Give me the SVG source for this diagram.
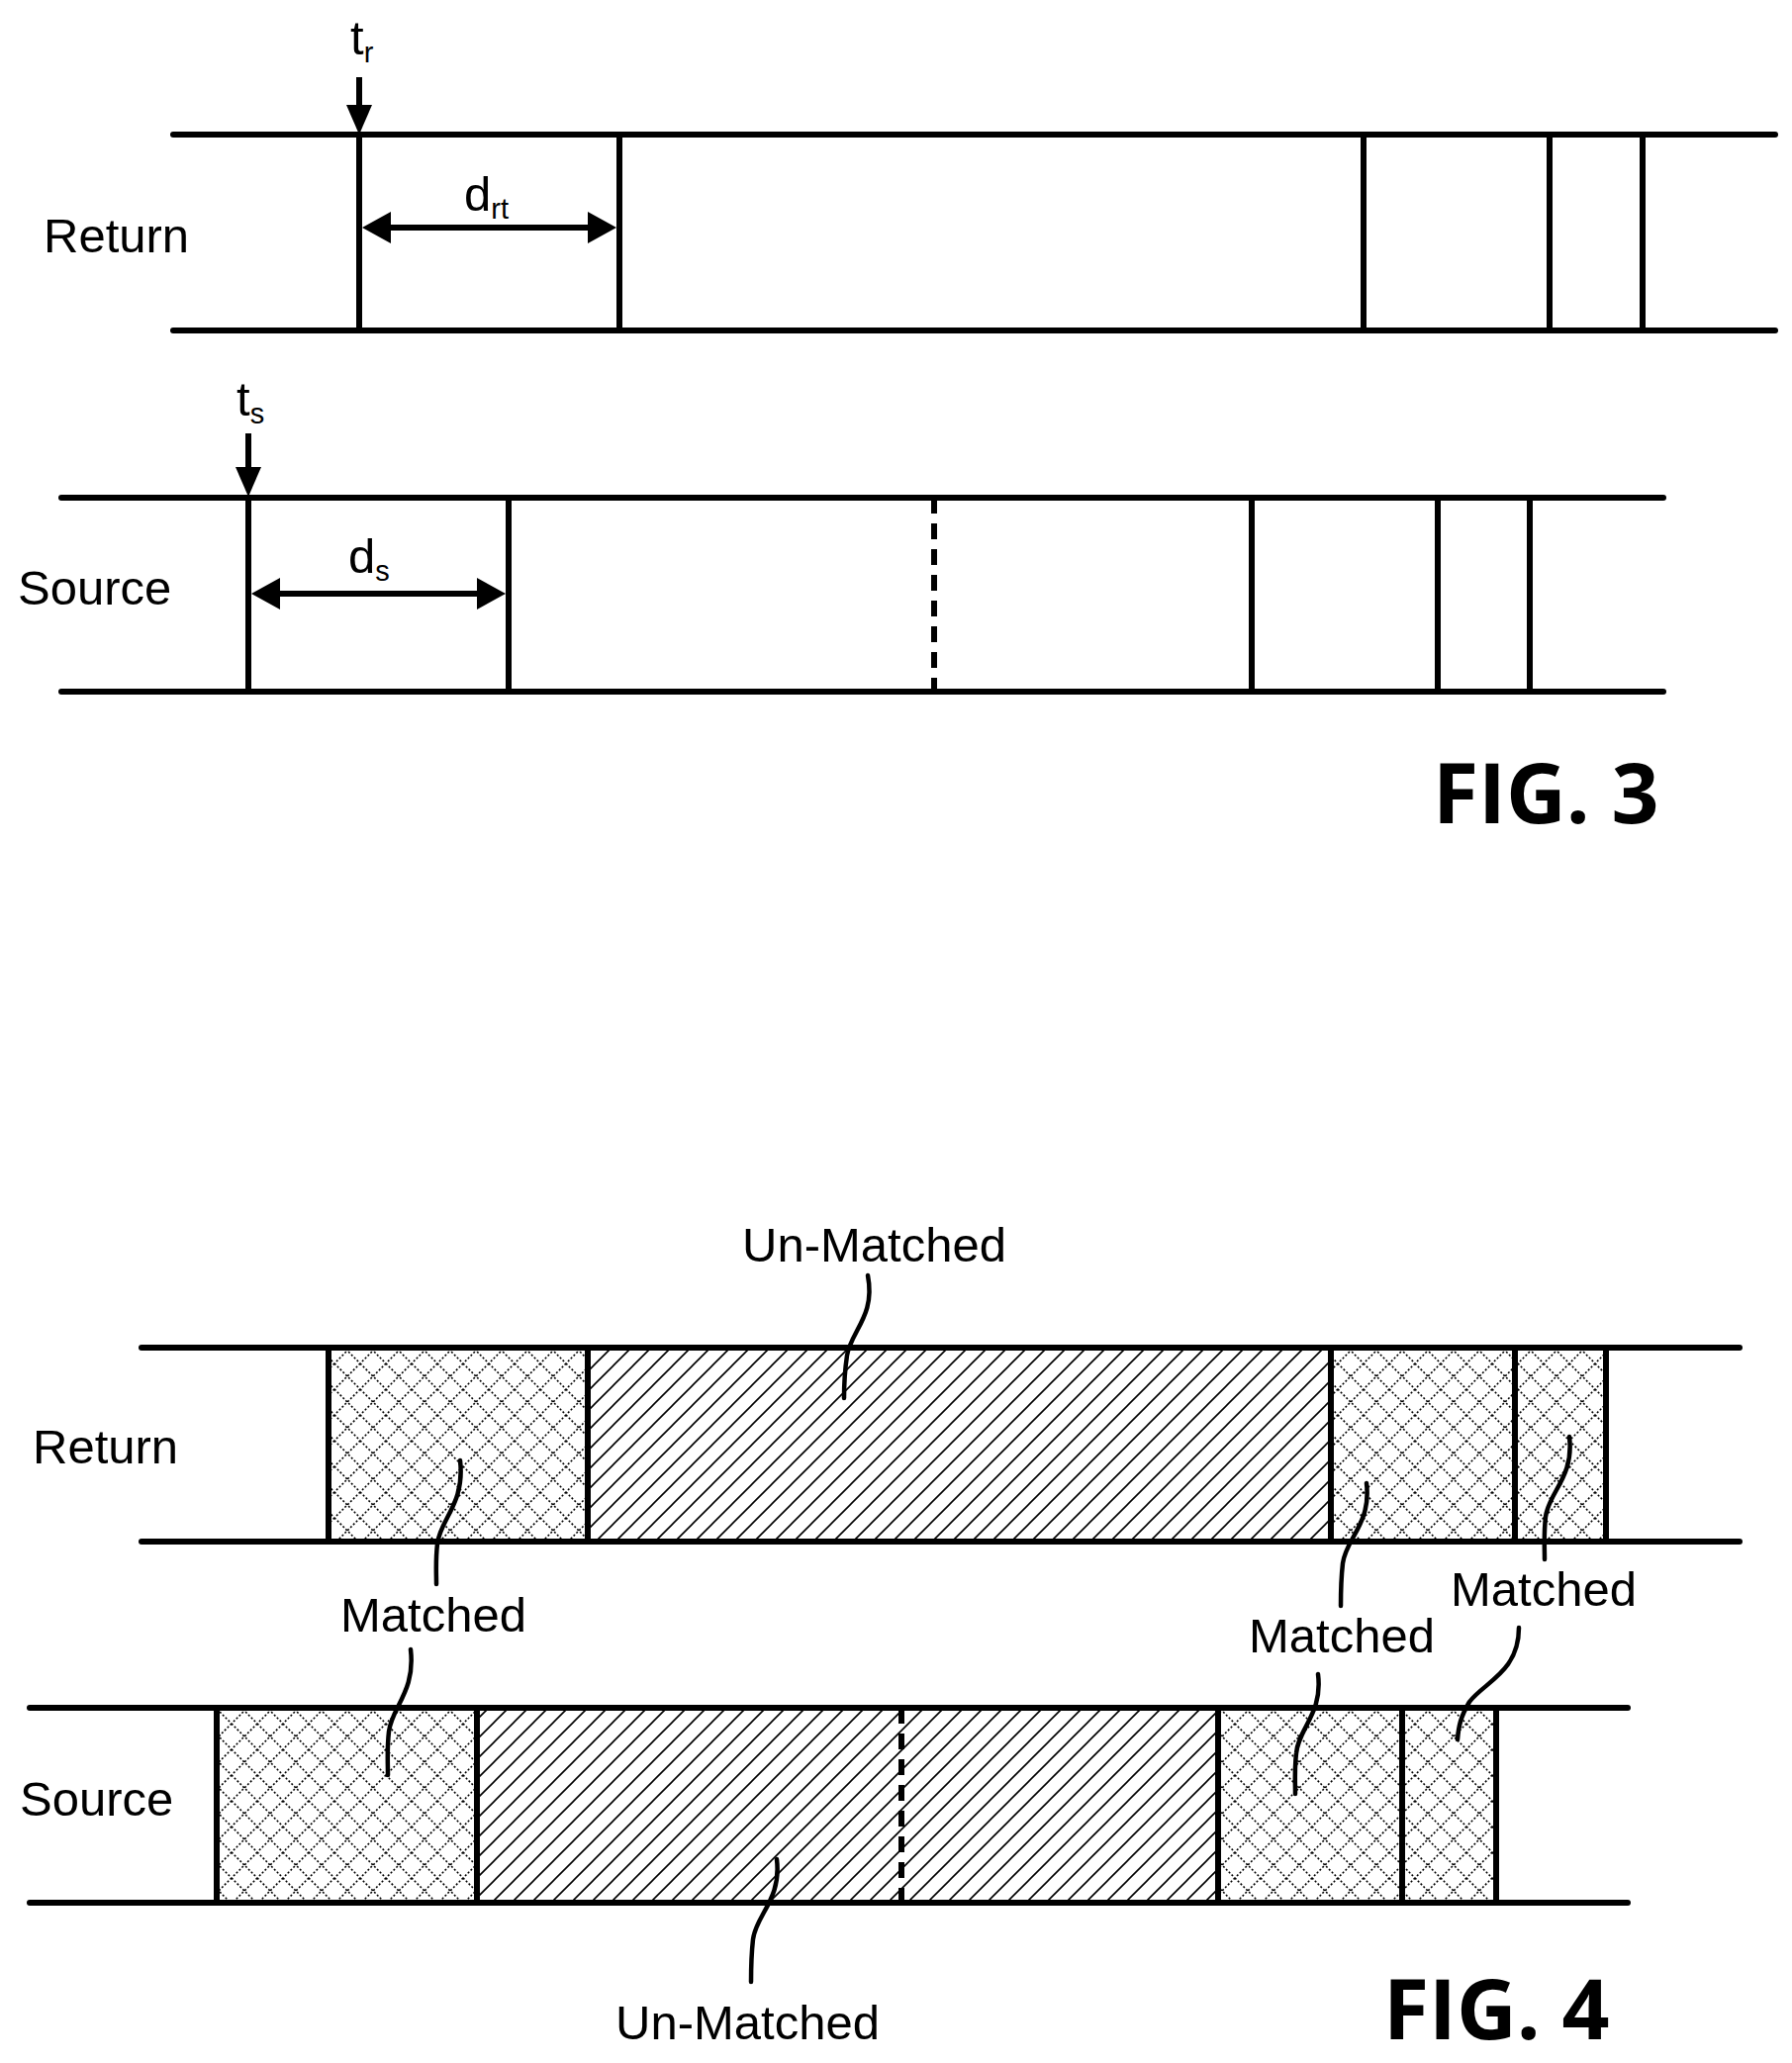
<svg xmlns="http://www.w3.org/2000/svg" width="1811" height="2085" viewBox="0 0 1811 2085">
<style>
.l{stroke:#000;stroke-width:6;fill:none;stroke-linecap:round}
.v{stroke:#000;stroke-width:6;fill:none}
.d{stroke:#000;stroke-width:6;fill:none;stroke-dasharray:16 10}
.c{stroke:#000;stroke-width:4.5;fill:none;stroke-linecap:round}
.t{font-family:"Liberation Sans",Arial,sans-serif;font-size:49px;fill:#000}
.s{font-family:"Liberation Sans",Arial,sans-serif;font-size:29px;fill:#000}
.f{font-family:"Open Sans","Liberation Sans",sans-serif;font-weight:bold;font-size:84px;fill:#000}
.m{fill:url(#cross)}
.h{fill:url(#hatch)}
</style>
<defs>
<pattern id="hatch" width="20" height="20" patternUnits="userSpaceOnUse">
<rect width="20" height="20" fill="#fff"/>
<path d="M-2,22 L22,-2 M-2,2 L2,-2 M18,22 L22,18" stroke="#000" stroke-width="1.6"/>
</pattern>
<pattern id="cross" width="26" height="26" patternUnits="userSpaceOnUse">
<rect width="26" height="26" fill="#fff"/>
<path d="M0,0 L26,26 M26,0 L0,26" stroke="#000" stroke-width="1.6" stroke-dasharray="2 2"/>
</pattern>
</defs>
<g id="fig3-return">
<line class="l" x1="175" y1="136" x2="1794" y2="136"/>
<line class="l" x1="175" y1="334" x2="1794" y2="334"/>
<line class="v" x1="363" y1="136" x2="363" y2="334"/>
<line class="v" x1="626" y1="136" x2="626" y2="334"/>
<line class="v" x1="1378" y1="136" x2="1378" y2="334"/>
<line class="v" x1="1566" y1="136" x2="1566" y2="334"/>
<line class="v" x1="1660" y1="136" x2="1660" y2="334"/>
<text class="t" x="44" y="255">Return</text>
</g>
<g id="fig3-source">
<line class="l" x1="62" y1="503" x2="1681" y2="503"/>
<line class="l" x1="62" y1="699" x2="1681" y2="699"/>
<line class="v" x1="251" y1="503" x2="251" y2="699"/>
<line class="v" x1="514" y1="503" x2="514" y2="699"/>
<line class="d" x1="944" y1="503" x2="944" y2="699"/>
<line class="v" x1="1265" y1="503" x2="1265" y2="699"/>
<line class="v" x1="1453" y1="503" x2="1453" y2="699"/>
<line class="v" x1="1546" y1="503" x2="1546" y2="699"/>
<text class="t" x="18" y="611">Source</text>
</g>
<g id="fig3-annotations">
<line class="v" x1="363" y1="78" x2="363" y2="110"/>
<polygon points="350,106 376,106 363,136"/>
<text class="t" x="354" y="55">t<tspan class="s" dy="8">r</tspan></text>
<line class="v" x1="395" y1="230" x2="594" y2="230"/>
<polygon points="366,230 395,214 395,246"/>
<polygon points="623,230 594,214 594,246"/>
<text class="t" x="469" y="213">d<tspan class="s" dy="8">rt</tspan></text>
<line class="v" x1="251" y1="438" x2="251" y2="476"/>
<polygon points="238,472 264,472 251,502"/>
<text class="t" x="239" y="420">t<tspan class="s" dy="8">s</tspan></text>
<line class="v" x1="283" y1="600" x2="482" y2="600"/>
<polygon points="254,600 283,584 283,616"/>
<polygon points="511,600 482,584 482,616"/>
<text class="t" x="352" y="579">d<tspan class="s" dy="8">s</tspan></text>
<text class="f" x="1448" y="832">FIG. 3</text>
</g>
<g id="fig4-return">
<rect class="m" x="332" y="1362" width="262" height="196"/>
<rect class="h" x="594" y="1362" width="751" height="196"/>
<rect class="m" x="1345" y="1362" width="186" height="196"/>
<rect class="m" x="1531" y="1362" width="92" height="196"/>
<line class="l" x1="143" y1="1362" x2="1758" y2="1362"/>
<line class="l" x1="143" y1="1558" x2="1758" y2="1558"/>
<line class="v" x1="332" y1="1362" x2="332" y2="1558"/>
<line class="v" x1="594" y1="1362" x2="594" y2="1558"/>
<line class="v" x1="1345" y1="1362" x2="1345" y2="1558"/>
<line class="v" x1="1531" y1="1362" x2="1531" y2="1558"/>
<line class="v" x1="1623" y1="1362" x2="1623" y2="1558"/>
<text class="t" x="33" y="1479">Return</text>
</g>
<g id="fig4-source">
<rect class="m" x="219" y="1726" width="263" height="197"/>
<rect class="h" x="482" y="1726" width="749" height="197"/>
<rect class="m" x="1231" y="1726" width="186" height="197"/>
<rect class="m" x="1417" y="1726" width="95" height="197"/>
<line class="l" x1="30" y1="1726" x2="1645" y2="1726"/>
<line class="l" x1="30" y1="1923" x2="1645" y2="1923"/>
<line class="v" x1="219" y1="1726" x2="219" y2="1923"/>
<line class="v" x1="482" y1="1726" x2="482" y2="1923"/>
<line class="d" x1="911" y1="1726" x2="911" y2="1923"/>
<line class="v" x1="1231" y1="1726" x2="1231" y2="1923"/>
<line class="v" x1="1417" y1="1726" x2="1417" y2="1923"/>
<line class="v" x1="1512" y1="1726" x2="1512" y2="1923"/>
<text class="t" x="20" y="1835">Source</text>
</g>
<g id="connectors">
<path class="c" d="M877,1289 C885,1330 860,1345 856,1370 C853,1390 853,1400 853,1413"/>
<path class="c" d="M465,1476 C470,1520 445,1535 442,1560 C440,1578 441,1590 441,1601"/>
<path class="c" d="M415,1667 C420,1710 396,1725 393,1750 C391,1768 392,1780 392,1794"/>
<path class="c" d="M785,1879 C790,1920 764,1935 761,1960 C759,1978 759,1990 759,2003"/>
<path class="c" d="M1381,1499 C1386,1540 1360,1555 1357,1580 C1355,1598 1355,1610 1355,1623"/>
<path class="c" d="M1586,1452 C1591,1493 1565,1508 1562,1533 C1560,1551 1561,1563 1561,1576"/>
<path class="c" d="M1332,1692 C1337,1732 1312,1747 1310,1772 C1308,1790 1309,1800 1309,1813"/>
<path class="c" d="M1535,1645 C1535,1690 1500,1700 1485,1720 C1476,1735 1474,1745 1473,1758"/>
</g>
<g id="fig4-labels">
<text class="t" x="750" y="1275">Un-Matched</text>
<text class="t" x="344" y="1649">Matched</text>
<text class="t" x="1262" y="1670">Matched</text>
<text class="t" x="1466" y="1623">Matched</text>
<text class="t" x="622" y="2061">Un-Matched</text>
<text class="f" x="1398" y="2061">FIG. 4</text>
</g>
</svg>
